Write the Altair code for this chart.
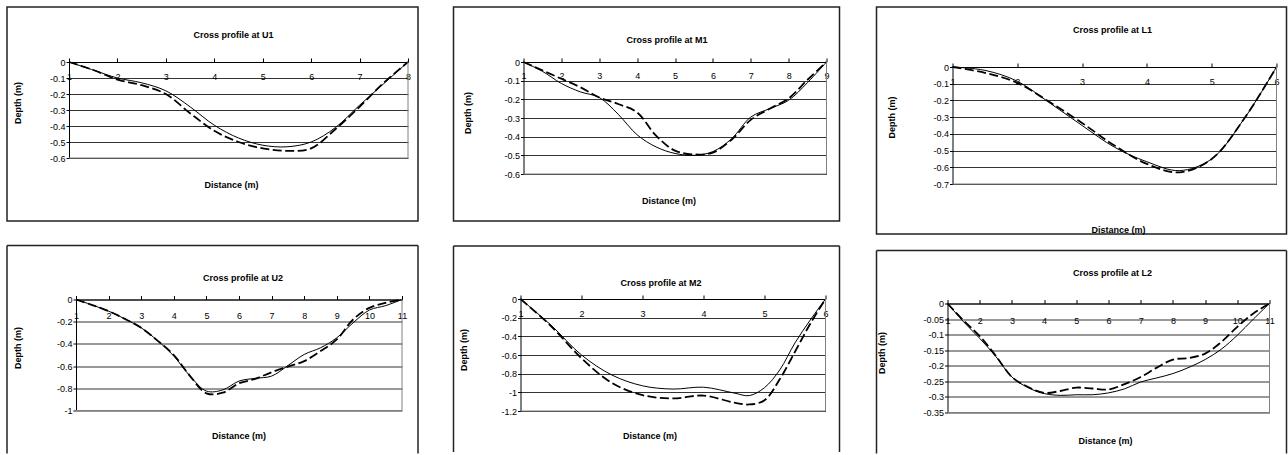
import altair as alt
import pandas as pd

FONT = "Liberation Sans"

# ---------------- data ----------------
U1_x = [1, 1.5, 2, 2.5, 3, 3.5, 4, 4.5, 5, 5.5, 6, 6.5, 7, 7.5, 8]
U1_solid = [0, -0.05, -0.10, -0.13, -0.18, -0.28, -0.395, -0.475, -0.52, -0.53, -0.50, -0.41, -0.27, -0.135, 0]
U1_dashed = [0, -0.05, -0.11, -0.145, -0.20, -0.32, -0.43, -0.50, -0.54, -0.555, -0.54, -0.42, -0.28, -0.13, 0]
U1_yticks = [0, -0.1, -0.2, -0.3, -0.4, -0.5, -0.6]

M1_x = [1, 1.5, 2, 2.5, 3, 3.5, 4, 4.5, 5, 5.5, 6, 6.5, 7, 7.5, 8, 8.5, 9]
M1_solid = [0, -0.05, -0.115, -0.16, -0.19, -0.28, -0.39, -0.455, -0.49, -0.50, -0.48, -0.41, -0.295, -0.25, -0.205, -0.11, 0]
M1_dashed = [0, -0.045, -0.09, -0.135, -0.19, -0.225, -0.27, -0.395, -0.475, -0.495, -0.485, -0.415, -0.31, -0.25, -0.195, -0.095, 0]
M1_yticks = [0, -0.1, -0.2, -0.3, -0.4, -0.5, -0.6]

L1_x = [1, 1.5, 2, 2.5, 3, 3.5, 4, 4.5, 5, 5.5, 6]
L1_solid = [0, -0.02, -0.085, -0.215, -0.35, -0.48, -0.567, -0.62, -0.55, -0.31, 0]
L1_dashed = [0, -0.035, -0.095, -0.21, -0.335, -0.47, -0.58, -0.63, -0.55, -0.31, 0]
L1_yticks = [0, -0.1, -0.2, -0.3, -0.4, -0.5, -0.6, -0.7]

U2_x = [1, 1.5, 2, 2.5, 3, 3.5, 4, 4.5, 5, 5.5, 6, 6.5, 7, 7.5, 8, 8.5, 9, 9.5, 10, 10.5, 11]
U2_solid = [0, -0.05, -0.105, -0.175, -0.255, -0.37, -0.51, -0.69, -0.825, -0.815, -0.735, -0.71, -0.69,
            -0.595, -0.495, -0.435, -0.345, -0.21, -0.095, -0.055, 0]
U2_dashed = [0, -0.05, -0.105, -0.175, -0.255, -0.37, -0.50, -0.69, -0.845, -0.84, -0.755, -0.715, -0.655,
             -0.605, -0.555, -0.465, -0.36, -0.18, -0.075, -0.03, 0]
U2_yticks = [0, -0.2, -0.4, -0.6, -0.8, -1]

M2_x = [1, 1.5, 2, 2.5, 3, 3.5, 4, 4.5, 4.75, 5, 5.25, 5.5, 5.75, 6]
M2_solid = [0, -0.28, -0.60, -0.815, -0.93, -0.965, -0.945, -1.007, -1.035, -0.95, -0.76, -0.47, -0.225, 0]
M2_dashed = [0, -0.29, -0.635, -0.90, -1.03, -1.065, -1.035, -1.11, -1.13, -1.085, -0.86, -0.565, -0.265, 0]
M2_yticks = [0, -0.2, -0.4, -0.6, -0.8, -1, -1.2]

L2_x = [1, 1.5, 2, 2.5, 3, 3.5, 4, 4.5, 5, 5.5, 6, 6.5, 7, 7.5, 8, 8.5, 9, 9.5, 10, 10.5, 11]
L2_solid = [0, -0.059, -0.112, -0.17, -0.236, -0.27, -0.289, -0.295, -0.293, -0.293, -0.287, -0.274, -0.252,
            -0.239, -0.225, -0.205, -0.18, -0.147, -0.102, -0.05, 0]
L2_dashed = [0, -0.055, -0.105, -0.168, -0.236, -0.268, -0.287, -0.281, -0.27, -0.273, -0.276, -0.259, -0.236,
             -0.206, -0.18, -0.175, -0.161, -0.124, -0.075, -0.032, 0]
L2_yticks = [0, -0.05, -0.1, -0.15, -0.2, -0.25, -0.3, -0.35]

TITLES = ["Cross profile at U1", "Cross profile at M1", "Cross profile at L1",
          "Cross profile at U2", "Cross profile at M2", "Cross profile at L2"]

# ---------------- geometry of each framed panel (frame = the view) ----------------
# BW/BH: frame size; dl/dt: plot-area offset inside the frame; W/H: plot-area size
GEOM = {
    "U1": dict(BW=411, BH=214, dl=62, dt=55, W=339, H=96, tt=(-5, -27), dp=(-51, -7), ds=(-7, 27), lab=14.3),
    "M1": dict(BW=386, BH=214, dl=70, dt=55, W=303, H=112, tt=(-8, -22), dp=(-56, -5), ds=(-6, 27), lab=13.3),
    "L1": dict(BW=410, BH=227, dl=76, dt=60, W=324, H=117, tt=(-2, -37), dp=(-61, -8), ds=(4, 46), lab=14.6),
    "U2": dict(BW=411, BH=208, dl=69, dt=54, W=326, H=111, tt=(4, -22), dp=(-58, -7), ds=(0, 25), lab=15.8),
    "M2": dict(BW=386, BH=206, dl=67, dt=53, W=305, H=112, tt=(-12, -16), dp=(-57, -5), ds=(-23, 25), lab=14.7),
    "L2": dict(BW=410, BH=203, dl=71, dt=53, W=322, H=109, tt=(4, -31), dp=(-66, -5), ds=(-3, 28), lab=17),
}

FRAME = "#222222"


def make_panel(key, title, xs, solid, dashed, yticks, closed):
    g = GEOM[key]
    BW, BH, dl, dt, W, H = g["BW"], g["BH"], g["dl"], g["dt"], g["W"], g["H"]
    xmax = int(max(xs))
    ymin = min(yticks)
    df = pd.DataFrame({
        "x": list(xs) + list(xs),
        "y": list(solid) + list(dashed),
        "series": ["solid"] * len(xs) + ["dashed"] * len(xs),
    })
    tick = 4
    xaxis = alt.Axis(orient="top", offset=-dt, values=list(range(1, xmax + 1)), title=None, grid=False,
                     tickSize=tick, tickColor="black", domainColor="black",
                     labelPadding=-(g["lab"] + tick), labelBaseline="middle",
                     labelFlush=False, labelOverlap=False, labelFont=FONT, labelFontSize=9,
                     labelColor="black", format="d")
    yaxis = alt.Axis(orient="left", offset=-dl, values=yticks, title=None, grid=True,
                     gridColor="#333333", gridWidth=1,
                     tickSize=3, tickColor="black", domainColor="black", labelPadding=1,
                     labelFont=FONT, labelFontSize=9, labelColor="black",
                     labelOverlap=False, labelExpr="toString(datum.value)")
    xsc = alt.Scale(domain=[1, xmax], range=[dl, dl + W], nice=False, zero=False)
    ysc = alt.Scale(domain=[ymin, 0], range=[dt + H, dt], nice=False, zero=False)
    x_enc = alt.X("x:Q", scale=xsc, axis=xaxis)
    y_enc = alt.Y("y:Q", scale=ysc, axis=yaxis)

    base = alt.Chart(df)
    l_solid = base.transform_filter(alt.datum.series == "solid").mark_line(
        color="black", strokeWidth=1, interpolate="catmull-rom").encode(x=x_enc, y=y_enc)
    l_dash = base.transform_filter(alt.datum.series == "dashed").mark_line(
        color="black", strokeWidth=1.8, strokeDash=[9, 3.5], interpolate="catmull-rom").encode(x=x_enc, y=y_enc)

    deco = alt.Chart(alt.Data(values=[{"k": 1}]))
    layers = []
    # grey plot-area border (right and bottom edges)
    layers.append(deco.mark_rule(color="#808080", strokeWidth=1).encode(
        x=alt.value(dl + W), y=alt.value(dt), y2=alt.value(dt + H)))
    layers.append(deco.mark_rule(color="#808080", strokeWidth=1).encode(
        x=alt.value(dl), x2=alt.value(dl + W), y=alt.value(dt + H)))
    # chart-area frame
    if closed:
        layers.append(deco.mark_rect(fillOpacity=0, stroke=FRAME, strokeWidth=1.5).encode(
            x=alt.value(0), x2=alt.value(BW), y=alt.value(0), y2=alt.value(BH)))
    else:
        layers.append(deco.mark_rule(color=FRAME, strokeWidth=1.5).encode(
            x=alt.value(0), x2=alt.value(BW), y=alt.value(0)))
        layers.append(deco.mark_rule(color=FRAME, strokeWidth=1.5).encode(
            x=alt.value(0), y=alt.value(0), y2=alt.value(BH)))
        layers.append(deco.mark_rule(color=FRAME, strokeWidth=1.5).encode(
            x=alt.value(BW), y=alt.value(0), y2=alt.value(BH)))

    layers.append(deco.mark_text(text=title, font=FONT, fontSize=9, fontWeight="bold",
                                 align="center", baseline="middle", color="black").encode(
        x=alt.value(dl + W / 2 + g["tt"][0]), y=alt.value(dt + g["tt"][1])))
    layers.append(deco.mark_text(text="Depth (m)", font=FONT, fontSize=9, fontWeight="bold",
                                 align="center", baseline="middle", angle=270, color="black").encode(
        x=alt.value(dl + g["dp"][0]), y=alt.value(dt + H / 2 + g["dp"][1])))
    layers.append(deco.mark_text(text="Distance (m)", font=FONT, fontSize=9, fontWeight="bold",
                                 align="center", baseline="middle", color="black").encode(
        x=alt.value(dl + W / 2 + g["ds"][0]), y=alt.value(dt + H + g["ds"][1])))

    return alt.layer(l_solid, l_dash, *layers).properties(width=BW, height=BH)


pU1 = make_panel("U1", TITLES[0], U1_x, U1_solid, U1_dashed, U1_yticks, True)
pM1 = make_panel("M1", TITLES[1], M1_x, M1_solid, M1_dashed, M1_yticks, True)
pL1 = make_panel("L1", TITLES[2], L1_x, L1_solid, L1_dashed, L1_yticks, True)
pU2 = make_panel("U2", TITLES[3], U2_x, U2_solid, U2_dashed, U2_yticks, False)
pM2 = make_panel("M2", TITLES[4], M2_x, M2_solid, M2_dashed, M2_yticks, False)
pL2 = make_panel("L2", TITLES[5], L2_x, L2_solid, L2_dashed, L2_yticks, False)

colU = alt.vconcat(pU1, pU2, spacing=22.5)
colM = alt.vconcat(pM1, pM2, spacing=23)
colL = alt.vconcat(pL1, pL2, spacing=14.5)

chart = alt.hconcat(alt.hconcat(colU, colM, spacing=33.5), colL, spacing=34.5).properties(
    padding={"left": 6, "top": 6, "right": 0, "bottom": 0},
    background="white",
).configure_view(strokeWidth=0)

chart.save("out.html", embed_options={"renderer": "svg", "actions": False})
